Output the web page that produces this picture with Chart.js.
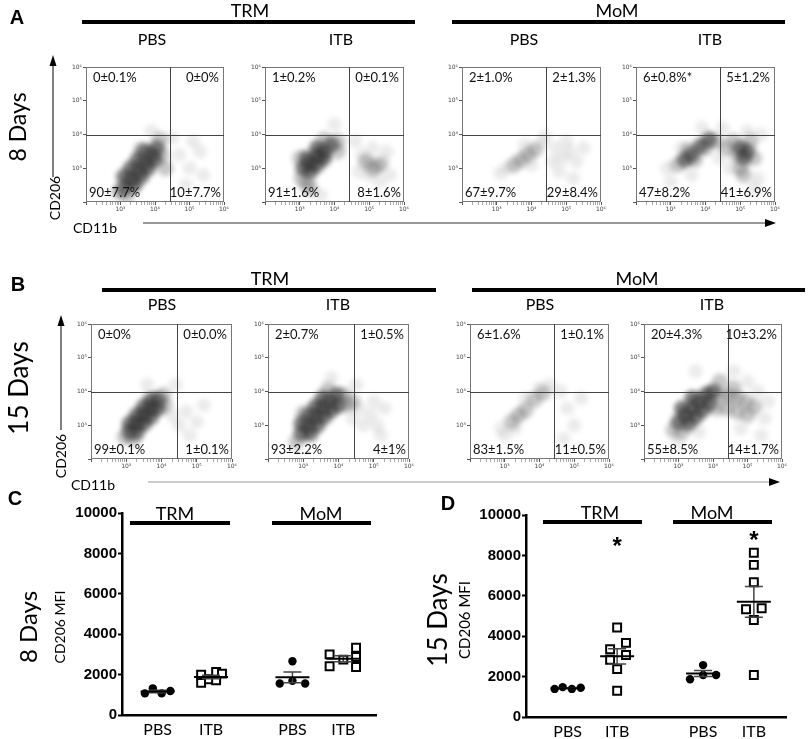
<!DOCTYPE html>
<html>
<head>
<meta charset="utf-8">
<script src="https://cdn.jsdelivr.net/npm/chart.js@4.4.1/dist/chart.umd.min.js"></script>
<style>
  html, body { margin: 0; padding: 0; background: #fff; }
  #page { position: relative; width: 809px; height: 739px; overflow: hidden; }
  #page canvas { position: absolute; }
  #overlay { position: absolute; left: 0; top: 0; }
  #overlay text { font-family: Lato, sans-serif; fill: #000; }
  #overlay text.tag { font-family: 'Liberation Sans', Arial, sans-serif; font-weight: bold; font-size: 20px; }
</style>
</head>
<body>
<div id="page">
<svg id="overlay" width="809" height="739">
  <!-- A -->
  <text class="tag" x="17" y="24" text-anchor="middle">A</text>
  <text x="250" y="17" font-size="18" text-anchor="middle">TRM</text>
  <rect x="82" y="20" width="333" height="4"/>
  <text x="617" y="17" font-size="18" text-anchor="middle">MoM</text>
  <rect x="452" y="20" width="333" height="4"/>
  <text x="152" y="45" font-size="16" text-anchor="middle">PBS</text>
  <text x="341" y="45" font-size="16" text-anchor="middle">ITB</text>
  <text x="524" y="45" font-size="16" text-anchor="middle">PBS</text>
  <text x="710" y="45" font-size="16" text-anchor="middle">ITB</text>
  <text transform="translate(17,127) rotate(-90)" font-size="23" text-anchor="middle" dominant-baseline="central">8 Days</text>
  <text transform="translate(54,198) rotate(-90)" font-size="14" text-anchor="middle" dominant-baseline="central">CD206</text>
  <line x1="53" y1="177" x2="53" y2="62" stroke="#000"/>
  <polygon points="53,55 49.5,66 56.5,66"/>
  <text x="95" y="233" font-size="14" text-anchor="middle">CD11b</text>
  <line x1="143" y1="223" x2="767" y2="223" stroke="#333"/>
  <polygon points="776,223 765,219 765,227"/>
  <!-- B -->
  <text class="tag" x="18" y="291" text-anchor="middle">B</text>
  <text x="270" y="285" font-size="18" text-anchor="middle">TRM</text>
  <rect x="102" y="288" width="334" height="4"/>
  <text x="637" y="285" font-size="18" text-anchor="middle">MoM</text>
  <rect x="472" y="288" width="333" height="4"/>
  <text x="162" y="310" font-size="16" text-anchor="middle">PBS</text>
  <text x="338" y="310" font-size="16" text-anchor="middle">ITB</text>
  <text x="540" y="310" font-size="16" text-anchor="middle">PBS</text>
  <text x="712" y="310" font-size="16" text-anchor="middle">ITB</text>
  <text transform="translate(18,388) rotate(-90)" font-size="26" text-anchor="middle" dominant-baseline="central">15 Days</text>
  <text transform="translate(60,456) rotate(-90)" font-size="14" text-anchor="middle" dominant-baseline="central">CD206</text>
  <line x1="61" y1="430" x2="61" y2="322" stroke="#000"/>
  <polygon points="61,315 57.5,326 64.5,326"/>
  <text x="93" y="490" font-size="14" text-anchor="middle">CD11b</text>
  <line x1="148" y1="482" x2="772" y2="482" stroke="#999"/>
  <polygon points="780,482 769,478 769,486"/>
  <!-- C -->
  <text class="tag" x="15" y="505" text-anchor="middle">C</text>
  <text x="175" y="520" font-size="18" text-anchor="middle">TRM</text>
  <rect x="130" y="521" width="100" height="4"/>
  <text x="321" y="520" font-size="18" text-anchor="middle">MoM</text>
  <rect x="272" y="521" width="99" height="4"/>
  <text transform="translate(27,627) rotate(-90)" font-size="24" text-anchor="middle" dominant-baseline="central">8 Days</text>
  <text transform="translate(59,627) rotate(-90)" font-size="14" text-anchor="middle" dominant-baseline="central">CD206 MFI</text>
  <!-- D -->
  <text class="tag" x="448" y="510" text-anchor="middle">D</text>
  <text x="600" y="519" font-size="18" text-anchor="middle">TRM</text>
  <rect x="543" y="520" width="99" height="4"/>
  <text x="712" y="519" font-size="18" text-anchor="middle">MoM</text>
  <rect x="673" y="520" width="99" height="4"/>
  <text transform="translate(437,620) rotate(-90)" font-size="26" text-anchor="middle" dominant-baseline="central">15 Days</text>
  <text transform="translate(464,620) rotate(-90)" font-size="15" text-anchor="middle" dominant-baseline="central">CD206 MFI</text>
</svg>
</div>
<script>
// ---- flow plots: where the cells sit, as [log10 CD11b, log10 CD206] ----
// dense = solid dark core, mid = medium grey, sparse = scattered events
const a1Dense = [[3.1,2.4],[3.3,2.65],[3.5,2.9],[3.7,3.15],[3.9,3.4],[4.05,3.6],[3.1,2.75],[3.3,3.0],[3.5,3.25],[3.7,3.5],[3.4,2.5],[3.6,2.75],[3.8,3.0],[4.0,3.25]];
const a1Mid = [[2.95,2.3],[4.15,3.85],[4.2,3.4],[3.2,2.2],[3.6,3.55],[4.3,3.0]];
const a1Sparse = [[4.7,3.4],[5.0,3.0],[5.3,3.5],[4.9,2.5],[5.4,2.8],[4.5,3.9],[3.9,4.1],[5.1,3.8]];

const a2Dense = [[3.1,3.0],[3.3,3.15],[3.5,3.35],[3.7,3.5],[3.9,3.7],[3.3,2.9],[3.5,3.1],[3.7,3.3],[3.2,3.3],[3.5,3.6]];
const a2Mid = [[3.2,2.55],[3.05,2.7],[3.3,2.4],[4.1,3.8],[4.1,3.5],[3.0,3.3],[3.7,3.85],[4.9,3.2],[5.1,3.0],[5.3,3.1]];
const a2Sparse = [[4.8,3.4],[5.0,3.2],[5.2,3.0],[5.4,3.2],[5.0,2.8],[5.3,2.6],[5.5,3.5],[4.7,2.9],[5.6,2.8],[4.6,3.8],[4.0,4.3],[3.6,2.2],[5.1,3.6]];

const a3Dense = [];
const a3Mid = [[3.7,3.25],[3.9,3.4],[4.1,3.55],[3.5,3.1]];
const a3Sparse = [[3.1,2.85],[3.3,3.0],[4.3,3.75],[4.4,3.95],[4.7,3.6],[4.9,3.3],[5.1,3.5],[5.3,3.2],[4.8,2.9],[5.2,2.7],[5.5,3.6],[4.6,3.2],[3.8,3.7],[4.0,3.1],[5.0,3.8]];

const a4Dense = [[3.4,3.25],[3.6,3.4],[3.85,3.65],[4.1,3.85],[5.0,3.6],[5.1,3.3],[5.2,3.5]];
const a4Mid = [[3.2,3.1],[3.5,3.55],[3.7,3.25],[4.0,3.6],[4.3,3.8],[4.8,3.8],[5.0,3.0],[5.3,3.8],[5.4,3.3],[4.9,3.4],[5.1,2.8],[4.6,3.6]];
const a4Sparse = [[2.9,3.0],[3.0,2.6],[3.6,2.8],[4.4,3.3],[4.5,4.2],[5.5,2.7],[5.6,4.0],[5.2,4.1],[3.9,4.2],[5.4,2.4],[4.7,3.0],[3.3,3.6]];

const b1Dense = [[3.1,2.8],[3.3,3.05],[3.5,3.3],[3.7,3.5],[3.9,3.75],[3.3,2.8],[3.5,3.05],[3.7,3.25],[3.9,3.5],[3.1,3.05],[3.3,3.3],[3.5,3.55],[3.7,3.75]];
const b1Mid = [[2.95,2.65],[4.05,3.9],[4.1,3.6],[3.2,2.6]];
const b1Sparse = [[4.7,3.4],[5.0,3.1],[4.8,2.7],[4.4,4.2],[5.2,3.6],[4.5,3.0],[3.6,4.2],[4.3,3.3]];

const b2Dense = [[2.95,2.75],[3.15,3.0],[3.35,3.25],[3.55,3.5],[3.75,3.72],[3.95,3.9],[3.2,2.75],[3.4,3.0],[3.6,3.25],[3.8,3.45],[2.95,3.05],[3.15,3.3],[3.35,3.55],[3.55,3.8],[4.0,3.6]];
const b2Mid = [[2.8,2.5],[4.15,3.9],[4.25,3.6],[3.0,3.35],[3.7,4.05],[4.4,3.7]];
const b2Sparse = [[4.6,3.5],[4.9,3.3],[5.1,3.0],[4.7,3.0],[5.3,3.5],[4.5,4.2],[3.8,4.4],[5.0,3.7],[4.4,3.2],[5.2,2.7]];

const b3Dense = [];
const b3Mid = [[3.2,3.1],[3.4,3.3],[3.6,3.45],[3.85,3.75],[4.1,3.95]];
const b3Sparse = [[2.9,2.9],[3.0,2.7],[4.3,4.2],[4.0,4.1],[4.8,3.5],[5.0,3.0],[4.7,2.6],[5.2,3.8],[3.3,2.9],[3.6,3.8],[4.6,4.0]];

const b4Dense = [[3.0,3.1],[3.2,3.3],[3.4,3.5],[3.6,3.7],[3.8,3.9],[4.0,4.0],[3.3,3.05],[3.5,3.25],[3.7,3.45],[3.9,3.65],[3.1,3.5],[3.4,3.8]];
const b4Mid = [[4.2,3.9],[4.45,3.85],[4.7,3.8],[4.95,3.7],[5.2,3.55],[4.4,3.5],[4.7,3.4],[5.0,3.3],[2.85,2.85],[4.2,4.3],[4.6,4.1],[3.1,2.8],[4.1,3.5]];
const b4Sparse = [[5.5,3.2],[5.0,4.3],[3.5,4.6],[4.6,4.6],[5.4,2.7],[3.0,2.5],[5.3,4.0],[4.8,2.9],[3.6,2.8],[5.6,3.7]];

// quadrant percentages: upper-left, upper-right, lower-left, lower-right
const a1Quad = ['0±0.1%', '0±0%', '90±7.7%', '10±7.7%'];
const a2Quad = ['1±0.2%', '0±0.1%', '91±1.6%', '8±1.6%'];
const a3Quad = ['2±1.0%', '2±1.3%', '67±9.7%', '29±8.4%'];
const a4Quad = ['6±0.8%*', '5±1.2%', '47±8.2%', '41±6.9%'];
const b1Quad = ['0±0%', '0±0.0%', '99±0.1%', '1±0.1%'];
const b2Quad = ['2±0.7%', '1±0.5%', '93±2.2%', '4±1%'];
const b3Quad = ['6±1.6%', '1±0.1%', '83±1.5%', '11±0.5%'];
const b4Quad = ['20±4.3%', '10±3.2%', '55±8.5%', '14±1.7%'];

const gateCD11b = 2.7e4;
const gateCD206 = 1e4;
const flowTicks = [1e3, 1e4, 1e5, 1e6];

// ---- CD206 MFI ----
const groups = ['PBS', 'ITB', 'PBS', 'ITB'];
const d8TrmPbs = [1070, 1320, 1070, 1190];
const d8TrmItb = [2000, 1590, 1770, 2130, 1720, 2050];
const d8MomPbs = [2660, 1560, 1690, 1560];
const d8MomItb = [3000, 2410, 2740, 3330, 2870, 2380];
const d15TrmPbs = [1390, 1480, 1390, 1450];
const d15TrmItb = [4430, 3670, 3350, 3070, 2830, 2370, 1300];
const d15MomPbs = [2570, 1870, 2080, 2080];
const d15MomItb = [8130, 7530, 6670, 5330, 5380, 4800, 2080];
const d8Stars = [null, null, null, null];
const d15Stars = [null, 8750, null, 9080];
const mfiTicks = [0, 2000, 4000, 6000, 8000, 10000];

// ---- layout ----
const flowPanels = [
  { box: [86, 61, 144, 141], dense: a1Dense, mid: a1Mid, sparse: a1Sparse, quad: a1Quad },
  { box: [265, 61, 145, 141], dense: a2Dense, mid: a2Mid, sparse: a2Sparse, quad: a2Quad },
  { box: [462, 61, 145, 141], dense: a3Dense, mid: a3Mid, sparse: a3Sparse, quad: a3Quad },
  { box: [636, 61, 145, 141], dense: a4Dense, mid: a4Mid, sparse: a4Sparse, quad: a4Quad },
  { box: [91, 318, 147, 141], dense: b1Dense, mid: b1Mid, sparse: b1Sparse, quad: b1Quad },
  { box: [268, 318, 147, 141], dense: b2Dense, mid: b2Mid, sparse: b2Sparse, quad: b2Quad },
  { box: [470, 318, 145, 141], dense: b3Dense, mid: b3Mid, sparse: b3Sparse, quad: b3Quad },
  { box: [644, 318, 144, 141], dense: b4Dense, mid: b4Mid, sparse: b4Sparse, quad: b4Quad }
];
// horizontal spread of the dots within a group (beeswarm), in x units
const swarm8 = [[-0.5, -0.19, 0.16, 0.5], [-0.39, -0.39, -0.08, 0.2, 0.2, 0.43], [0, -0.5, 0, 0.5], [-0.54, -0.54, 0, 0.5, 0.5, 0.5]];
const swarm15 = [[-0.5, -0.19, 0.16, 0.5], [0, 0.34, -0.27, 0.34, -0.27, 0, 0], [0, -0.5, 0, 0.5], [0, 0, 0, -0.3, 0.3, 0, 0]];

const page = document.getElementById('page');
const sup = { 2: '²', 3: '³', 4: '⁴', 5: '⁵', 6: '⁶' };
const toPts = arr => arr.map(([lx, ly]) => ({ x: 10 ** lx, y: 10 ** ly }));

function decadeTicks(withMinor) {
  const out = [];
  for (let e = 2; e <= 6; e++) {
    const base = 10 ** e;
    out.push({ value: base });
    if (withMinor && e < 6) for (let m = 2; m <= 9; m++) out.push({ value: m * base });
  }
  return out;
}

const flowLabel = v => flowTicks.includes(v) ? '10' + sup[Math.round(Math.log10(v))] : '';
const isDecade = v => v === 100 || flowTicks.includes(v);

const softCloud = {
  id: 'softCloud',
  beforeDatasetsDraw(chart) { chart.ctx.save(); chart.ctx.filter = 'blur(2.6px)'; },
  afterDatasetsDraw(chart) { chart.ctx.restore(); }
};

const flowGate = {
  id: 'flowGate',
  afterDraw(chart, args, opts) {
    const { ctx, chartArea: a, scales: { x, y } } = chart;
    const gx = Math.round(x.getPixelForValue(gateCD11b)) + 0.5;
    const gy = Math.round(y.getPixelForValue(gateCD206)) + 0.5;
    ctx.save();
    ctx.lineWidth = 1;
    ctx.strokeStyle = '#777';
    ctx.strokeRect(a.left + 0.5, a.top + 0.5, a.width - 1, a.height - 1);
    ctx.strokeStyle = '#444';
    ctx.beginPath();
    ctx.moveTo(gx, a.top); ctx.lineTo(gx, a.bottom);
    ctx.moveTo(a.left, gy); ctx.lineTo(a.right, gy);
    ctx.stroke();
    ctx.fillStyle = '#111';
    ctx.font = '13px Lato';
    ctx.textBaseline = 'middle';
    const [ul, ur, ll, lr] = opts.labels;
    ctx.textAlign = 'left';
    ctx.fillText(ul, a.left + 7, a.top + 11);
    ctx.fillText(ll, a.left + 3, a.bottom - 9);
    ctx.textAlign = 'right';
    ctx.fillText(ur, a.right - 5, a.top + 11);
    ctx.fillText(lr, a.right - 3, a.bottom - 9);
    ctx.restore();
  }
};

function flowChart(p) {
  const [L, T, W, H] = p.box;
  const cv = document.createElement('canvas');
  cv.width = W + 16;
  cv.height = H + 14;
  cv.style.left = (L - 14) + 'px';
  cv.style.top = (T - 2) + 'px';
  page.insertBefore(cv, page.firstChild);

  const tickFont = { size: 6, family: 'DejaVu Sans' };
  new Chart(cv, {
    type: 'scatter',
    data: {
      datasets: [
        { data: toPts(p.sparse), pointRadius: 7, pointBackgroundColor: 'rgba(120,120,120,0.15)' },
        { data: toPts(p.mid), pointRadius: 8, pointBackgroundColor: 'rgba(85,85,85,0.32)' },
        { data: toPts(p.dense), pointRadius: 8, pointBackgroundColor: 'rgba(50,50,50,0.62)' }
      ]
    },
    options: {
      responsive: false,
      animation: false,
      events: [],
      layout: { padding: { top: 2, right: 2, left: 0, bottom: 0 } },
      elements: { point: { borderWidth: 0, hoverRadius: 0 } },
      plugins: { legend: { display: false }, tooltip: { enabled: false }, flowGate: { labels: p.quad } },
      scales: {
        x: {
          type: 'logarithmic', min: 100, max: 1e6,
          afterBuildTicks: s => { s.ticks = decadeTicks(true); },
          afterFit: s => { s.height = 12; s.paddingLeft = 0; s.paddingRight = 0; },
          border: { display: false },
          grid: { drawOnChartArea: false, tickLength: 3, tickWidth: 1,
                  tickColor: c => isDecade(c.tick.value) ? '#555' : '#aaa' },
          ticks: { autoSkip: false, maxRotation: 0, padding: 1, font: tickFont, color: '#444', callback: flowLabel }
        },
        y: {
          type: 'logarithmic', min: 100, max: 1e6,
          afterBuildTicks: s => { s.ticks = decadeTicks(false); },
          afterFit: s => { s.width = 14; s.paddingTop = 0; s.paddingBottom = 0; },
          border: { display: false },
          grid: { drawOnChartArea: false, tickLength: 3, tickWidth: 1, tickColor: '#555' },
          ticks: { autoSkip: false, padding: 1, font: tickFont, color: '#444', callback: flowLabel }
        }
      }
    },
    plugins: [softCloud, flowGate]
  });
}

const meanSem = {
  id: 'meanSem',
  afterDatasetsDraw(chart, args, opts) {
    const { ctx, scales: { x, y } } = chart;
    ctx.save();
    opts.sets.forEach((vals, g) => {
      const n = vals.length;
      const mean = vals.reduce((s, v) => s + v, 0) / n;
      const sd = Math.sqrt(vals.reduce((s, v) => s + (v - mean) ** 2, 0) / (n - 1));
      const sem = sd / Math.sqrt(n);
      const px = x.getPixelForValue(opts.gx[g]);
      const pm = y.getPixelForValue(mean);
      const pt = y.getPixelForValue(mean + sem);
      const pb = y.getPixelForValue(mean - sem);
      ctx.strokeStyle = '#444';
      ctx.lineWidth = 1.5;
      ctx.beginPath(); ctx.moveTo(px, pt); ctx.lineTo(px, pb); ctx.stroke();
      ctx.beginPath();
      ctx.moveTo(px - 9, pt); ctx.lineTo(px + 9, pt);
      ctx.moveTo(px - 9, pb); ctx.lineTo(px + 9, pb);
      ctx.stroke();
      ctx.strokeStyle = '#000';
      ctx.lineWidth = 2;
      ctx.beginPath(); ctx.moveTo(px - 17, pm); ctx.lineTo(px + 17, pm); ctx.stroke();
    });
    ctx.fillStyle = '#000';
    ctx.font = 'bold 24px "Liberation Sans"';
    ctx.textAlign = 'center';
    ctx.textBaseline = 'alphabetic';
    opts.stars.forEach((v, g) => {
      if (v == null) return;
      ctx.fillText('*', x.getPixelForValue(opts.gx[g]), y.getPixelForValue(v) + 14);
    });
    ctx.restore();
  }
};

function mfiChart(pos, sets, gx, swarm, stars, xAxisH) {
  const [left, top, w, h] = pos;
  const cv = document.createElement('canvas');
  cv.width = w;
  cv.height = h;
  cv.style.left = left + 'px';
  cv.style.top = top + 'px';
  page.insertBefore(cv, page.firstChild);

  const datasets = sets.map((vals, g) => {
    const open = groups[g] === 'ITB';
    return {
      data: vals.map((v, i) => ({ x: gx[g] + swarm[g][i], y: v })),
      pointStyle: open ? 'rect' : 'circle',
      pointRadius: open ? 5.6 : 4.2,
      pointBackgroundColor: open ? '#fff' : '#000',
      pointBorderColor: '#000',
      pointBorderWidth: open ? 2 : 0
    };
  });

  new Chart(cv, {
    type: 'scatter',
    data: { datasets },
    options: {
      responsive: false,
      animation: false,
      events: [],
      layout: { padding: { top: 10, right: 4, left: 0, bottom: 0 } },
      elements: { point: { hoverRadius: 0 } },
      plugins: { legend: { display: false }, tooltip: { enabled: false }, meanSem: { sets, gx, stars } },
      scales: {
        x: {
          type: 'linear', min: 0, max: 10,
          afterBuildTicks: s => { s.ticks = gx.map(v => ({ value: v })); },
          afterFit: s => { s.height = xAxisH; s.paddingLeft = 0; s.paddingRight = 0; },
          border: { color: '#000', width: 2.5 },
          grid: { display: false, drawTicks: false },
          ticks: { autoSkip: false, maxRotation: 0, padding: 5, color: '#000',
                   font: { size: 16, family: 'Lato' }, callback: (v, i) => groups[i] }
        },
        y: {
          min: 0, max: 10000,
          afterBuildTicks: s => { s.ticks = mfiTicks.map(v => ({ value: v })); },
          afterFit: s => { s.width = 60; s.paddingTop = 0; s.paddingBottom = 0; },
          border: { color: '#000', width: 2.5 },
          grid: { drawOnChartArea: false, tickLength: 4, tickWidth: 2, tickColor: '#000' },
          ticks: { padding: 1, color: '#000', font: { size: 15, weight: 'bold', family: 'Liberation Sans' },
                   callback: v => String(v) }
        }
      }
    },
    plugins: [meanSem]
  });
}

flowPanels.forEach(flowChart);
mfiChart([62, 503, 322, 236], [d8TrmPbs, d8TrmItb, d8MomPbs, d8MomItb], [1.4, 3.5, 6.7, 8.7], swarm8, d8Stars, 24);
mfiChart([466, 505, 328, 234], [d15TrmPbs, d15TrmItb, d15MomPbs, d15MomItb], [1.6, 3.5, 6.8, 8.75], swarm15, d15Stars, 22);
</script>
</body>
</html>
